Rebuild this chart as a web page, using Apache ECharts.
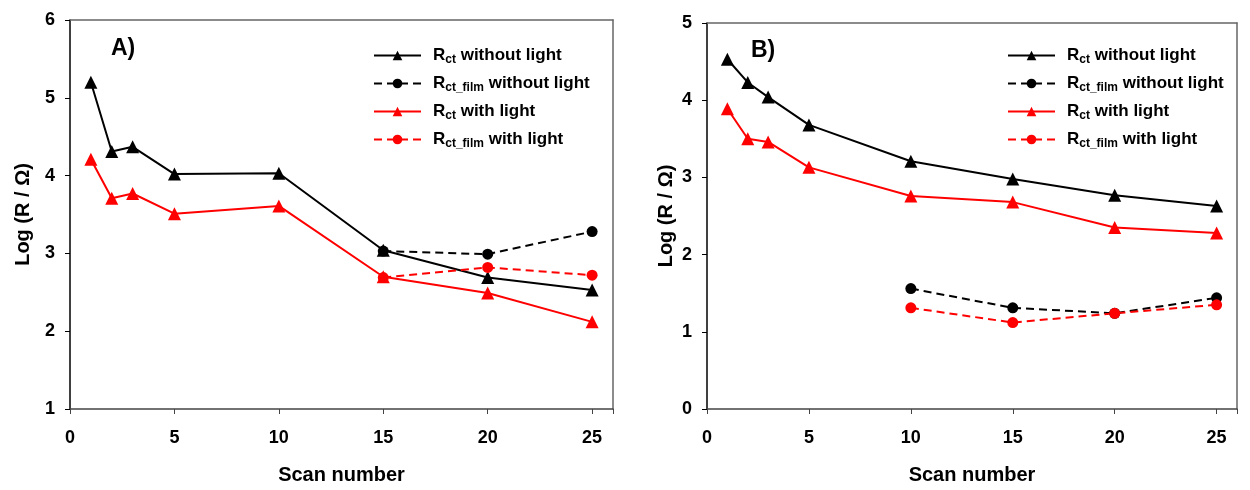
<!DOCTYPE html>
<html><head><meta charset="utf-8">
<script src="https://cdn.jsdelivr.net/npm/echarts@6/dist/echarts.min.js"></script>
<style>html,body{margin:0;padding:0;background:#fff;overflow:hidden}#c{position:absolute;left:0;top:0;width:1250px}</style>
</head><body><div id="c"></div>
<script>
// ---- data ----
const scans = [1, 2, 3, 5, 10, 15, 20, 25];
const filmScansA = [15, 20, 25];
const filmScansB = [10, 15, 20, 25];
const A_rct_dark = [5.20, 4.31, 4.37, 4.02, 4.03, 3.04, 2.69, 2.53];
const A_rct_light = [4.21, 3.71, 3.77, 3.51, 3.61, 2.70, 2.49, 2.12];
const A_film_dark = [3.03, 2.99, 3.28];
const A_film_light = [2.69, 2.82, 2.72];
const B_rct_dark = [4.53, 4.23, 4.04, 3.68, 3.21, 2.98, 2.77, 2.63];
const B_rct_light = [3.89, 3.50, 3.46, 3.13, 2.76, 2.68, 2.35, 2.28];
const B_film_dark = [1.56, 1.31, 1.24, 1.44];
const B_film_light = [1.31, 1.12, 1.24, 1.35];
const seriesNames = ['Rct without light', 'Rct_film without light', 'Rct with light', 'Rct_film with light'];
const legendLabels = {
  'Rct without light': '{r|R}{s|ct}{t| without light}',
  'Rct_film without light': '{r|R}{s|ct_film}{t| without light}',
  'Rct with light': '{r|R}{s|ct}{t| with light}',
  'Rct_film with light': '{r|R}{s|ct_film}{t| with light}'
};
const panelLabels = ['A)', 'B)'];
// ---- chart ----
const FONT = 'Liberation Sans';
const H = Math.max(490, window.innerHeight || 490);
const sy = H / 490;
const el = document.getElementById('c');
el.style.height = H + 'px';
const pairs = (xs, ys) => xs.map((x, i) => [x, ys[i]]);
const chart = echarts.init(el, null, {renderer: 'canvas', width: 1250, height: H});

function mkSeries(idx, name, data, color, dashed, symbol) {
  return {
    type: 'line', name: name, xAxisIndex: idx, yAxisIndex: idx, data: data,
    symbol: symbol, symbolSize: symbol === 'triangle' ? 13 : 11,
    lineStyle: {color: color, width: 2, type: dashed ? [8, 5] : 'solid'},
    itemStyle: {color: color}, animation: false, z: dashed ? 3 : 2
  };
}
function xAx(idx) {
  return {
    type: 'value', gridIndex: idx, min: 0, max: 26, interval: 5,
    name: 'Scan number', nameLocation: 'middle', nameGap: 56 * sy,
    nameTextStyle: {fontFamily: FONT, fontWeight: 'bold', fontSize: 20, color: '#000'},
    axisLine: {show: true, onZero: false, lineStyle: {color: '#444', width: 1.5}},
    axisTick: {show: true, inside: false, length: 5, lineStyle: {color: '#444'}},
    axisLabel: {fontFamily: FONT, fontWeight: 'bold', fontSize: 18, color: '#000', margin: 20 * sy,
      formatter: v => (v % 5 === 0 && v <= 25) ? String(v) : ''},
    splitLine: {show: false}
  };
}
function xTop(idx) {
  return {type: 'value', gridIndex: idx, position: 'top', min: 0, max: 26,
    axisLine: {show: true, onZero: false, lineStyle: {color: '#666', width: 1.5}},
    axisTick: {show: false}, axisLabel: {show: false}, splitLine: {show: false}};
}
function yAx(idx, min, max, gap) {
  return {
    type: 'value', gridIndex: idx, min: min, max: max, interval: 1,
    name: 'Log (R / Ω)', nameLocation: 'middle', nameGap: gap,
    nameTextStyle: {fontFamily: FONT, fontWeight: 'bold', fontSize: 20, color: '#000'},
    axisLine: {show: true, onZero: false, lineStyle: {color: '#000', width: 1.5}},
    axisTick: {show: true, inside: false, length: 5, lineStyle: {color: '#000'}},
    axisLabel: {fontFamily: FONT, fontWeight: 'bold', fontSize: 18, color: '#000', margin: 15},
    splitLine: {show: false}
  };
}
function yRight(idx, min, max) {
  return {type: 'value', gridIndex: idx, position: 'right', min: min, max: max,
    axisLine: {show: true, onZero: false, lineStyle: {color: '#666', width: 1.5}},
    axisTick: {show: false}, axisLabel: {show: false}, splitLine: {show: false}};
}
function legend(left) {
  return {
    data: seriesNames, left: left, top: 40 * sy, orient: 'vertical', itemWidth: 47, itemHeight: 12,
    itemGap: 7 + 27.3 * (sy - 1),
    formatter: n => legendLabels[n], selectedMode: false,
    textStyle: {fontFamily: FONT, fontWeight: 'bold', color: '#000', padding: [0, 0, 0, 7],
      rich: {
        r: {fontFamily: FONT, fontWeight: 'bold', fontSize: 17, color: '#000', lineHeight: 20},
        s: {fontFamily: FONT, fontWeight: 'bold', fontSize: 12, color: '#000', lineHeight: 20, padding: [9, 0, 0, 0]},
        t: {fontFamily: FONT, fontWeight: 'bold', fontSize: 17, color: '#000', lineHeight: 20}
      }}
  };
}

chart.setOption({
  backgroundColor: '#fff',
  animation: false,
  grid: [
    {left: 70, top: 20 * sy, width: 543, height: 395 * sy},
    {left: 707, top: 23 * sy, width: 530, height: 396 * sy}
  ],
  xAxis: [xAx(0), xAx(1), xTop(0), xTop(1)],
  yAxis: [yAx(0, 1, 6, 37), yAx(1, 0, 5, 31), yRight(0, 1, 6), yRight(1, 0, 5)],
  legend: [legend(368), legend(1002)],
  graphic: [
    {type: 'text', left: 111, top: 37 * sy, style: {text: panelLabels[0], font: 'bold 23px "Liberation Sans"', fill: '#000'}},
    {type: 'text', left: 751, top: 39 * sy, style: {text: panelLabels[1], font: 'bold 23px "Liberation Sans"', fill: '#000'}}
  ],
  series: [
    mkSeries(0, seriesNames[0], pairs(scans, A_rct_dark), '#000', false, 'triangle'),
    mkSeries(0, seriesNames[1], pairs(filmScansA, A_film_dark), '#000', true, 'circle'),
    mkSeries(0, seriesNames[2], pairs(scans, A_rct_light), '#ff0000', false, 'triangle'),
    mkSeries(0, seriesNames[3], pairs(filmScansA, A_film_light), '#ff0000', true, 'circle'),
    mkSeries(1, seriesNames[0], pairs(scans, B_rct_dark), '#000', false, 'triangle'),
    mkSeries(1, seriesNames[1], pairs(filmScansB, B_film_dark), '#000', true, 'circle'),
    mkSeries(1, seriesNames[2], pairs(scans, B_rct_light), '#ff0000', false, 'triangle'),
    mkSeries(1, seriesNames[3], pairs(filmScansB, B_film_light), '#ff0000', true, 'circle')
  ]
});
</script></body></html>
